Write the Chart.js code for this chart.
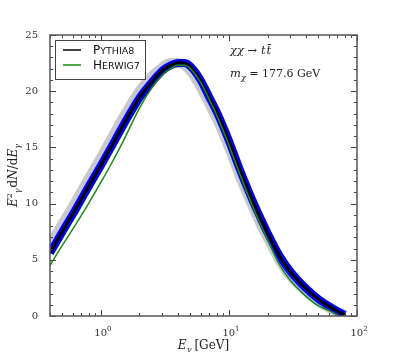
<!DOCTYPE html>
<html>
<head>
<meta charset="utf-8">
<script src="https://cdn.jsdelivr.net/npm/chart.js@4.4.0/dist/chart.umd.min.js"></script>
<style>
  html, body { margin: 0; padding: 0; background: #fff; }
  #wrap { width: 399px; height: 352px; }
</style>
</head>
<body>
<div id="wrap"><canvas id="myChart"></canvas></div>
<script>
// photon energy grid [GeV]
var energies = [0.4, 0.5, 0.6, 0.8, 1.0, 1.2, 1.5, 2.0, 2.5, 3.0, 3.5, 4.0, 4.5, 5.0, 6.0, 7.0, 8.0, 10, 12, 15, 18, 20, 25, 30, 40, 50, 60, 70, 80];
// Pythia8 central curve
var pythia = [5.6, 7.5, 9.0, 11.5, 13.4, 15.0, 17.0, 19.4, 20.8, 21.8, 22.3, 22.5, 22.5, 22.2, 21.0, 19.5, 18.2, 15.6, 13.2, 10.5, 8.5, 7.4, 5.3, 4.0, 2.45, 1.5, 0.9, 0.45, 0.1];
// Pythia8 variation (grey band)
var pythiaVar = [6.3, 8.2, 9.7, 12.2, 14.1, 15.7, 17.7, 20.0, 21.3, 22.1, 22.5, 22.5, 22.3, 21.8, 20.4, 18.9, 17.6, 15.0, 12.6, 10.0, 8.0, 7.0, 4.9, 3.6, 2.2, 1.3, 0.75, 0.35, 0.05];
// Herwig7
var herwig = [4.5, 6.3, 7.7, 10.0, 11.9, 13.5, 15.6, 18.5, 20.3, 21.4, 22.0, 22.3, 22.3, 22.0, 20.8, 19.3, 17.9, 15.2, 12.8, 10.0, 7.9, 6.8, 4.5, 3.2, 1.75, 0.9, 0.5, 0.1, null];

var xMajor = [1, 10, 100];
var xMinor = [0.4, 0.5, 0.6, 0.7, 0.8, 0.9, 2, 3, 4, 5, 6, 7, 8, 9, 20, 30, 40, 50, 60, 70, 80, 90];
var yMajor = [0, 5, 10, 15, 20, 25];

function pts(vals) {
  return energies.map(function(e, i) { return { x: e, y: vals[i] }; });
}

function drawRich(c, parts, x, y, align) {
  var w = 0;
  parts.forEach(function(p) { c.font = p.f; w += c.measureText(p.t).width + (p.gap || 0); });
  var cx = align === 'center' ? x - w / 2 : x;
  parts.forEach(function(p) {
    c.font = p.f;
    c.fillText(p.t, cx, y + (p.dy || 0));
    cx += c.measureText(p.t).width + (p.gap || 0);
  });
}

var SERIF = '"DejaVu Serif", serif';
var SANS = '"DejaVu Sans", sans-serif';

var decor = {
  id: 'decor',
  afterDraw: function(chart) {
    var c = chart.ctx, a = chart.chartArea, xs = chart.scales.x, ys = chart.scales.y;
    c.save();
    c.strokeStyle = '#444';
    c.lineWidth = 1;
    function seg(x1, y1, x2, y2) { c.beginPath(); c.moveTo(x1, y1); c.lineTo(x2, y2); c.stroke(); }
    // y ticks, inward on both sides
    for (var v = 0; v <= 25; v++) {
      var p = Math.round(ys.getPixelForValue(v)) + 0.5;
      var len = v % 5 === 0 ? 6 : 3;
      seg(a.left, p, a.left + len, p);
      seg(a.right - len, p, a.right, p);
    }
    xMajor.forEach(function(e) {
      var p = Math.round(xs.getPixelForValue(e)) + 0.5;
      seg(p, a.bottom, p, a.bottom - 6);
      seg(p, a.top, p, a.top + 6);
    });
    xMinor.forEach(function(e) {
      var p = Math.round(xs.getPixelForValue(e)) + 0.5;
      seg(p, a.bottom, p, a.bottom - 3);
      seg(p, a.top, p, a.top + 3);
    });
    // frame
    c.lineWidth = 1.5;
    c.strokeStyle = '#555';
    c.strokeRect(a.left, a.top, a.right - a.left, a.bottom - a.top);

    // y tick labels
    c.fillStyle = '#333';
    c.textBaseline = 'middle';
    c.textAlign = 'right';
    c.font = '10px ' + SERIF;
    yMajor.forEach(function(v) {
      c.fillText(String(v), 38, ys.getPixelForValue(v));
    });

    // x tick labels 10^n
    c.textBaseline = 'alphabetic';
    c.textAlign = 'left';
    xMajor.forEach(function(e) {
      var p = xs.getPixelForValue(e);
      var ex = String(Math.round(Math.log10(e)));
      drawRich(c, [
        { t: '10', f: '10px ' + SERIF },
        { t: ex, f: '7px ' + SERIF, dy: -5 }
      ], p + 2, 336, 'center');
    });

    // axis titles
    c.fillStyle = '#222';
    drawRich(c, [
      { t: 'E', f: 'italic 12px ' + SERIF },
      { t: 'γ', f: 'italic 8px ' + SERIF, dy: 3, gap: 3 },
      { t: '[GeV]', f: '12px ' + SERIF }
    ], (a.left + a.right) / 2, 349, 'center');

    c.save();
    c.translate(17, (a.top + a.bottom) / 2);
    c.rotate(-Math.PI / 2);
    drawRich(c, [
      { t: 'E', f: 'italic 12px ' + SERIF },
      { t: '2', f: '8px ' + SERIF, dy: -5 },
      { t: 'γ', f: 'italic 8px ' + SERIF, dy: 3, gap: -3 },
      { t: '', f: '8px ' + SERIF, gap: 4 },
      { t: 'd', f: '12px ' + SERIF },
      { t: 'N', f: 'italic 12px ' + SERIF },
      { t: '/d', f: '12px ' + SERIF },
      { t: 'E', f: 'italic 12px ' + SERIF },
      { t: 'γ', f: 'italic 8px ' + SERIF, dy: 3 }
    ], 0, 0, 'center');
    c.restore();

    // annotation
    drawRich(c, [
      { t: 'χχ', f: 'italic 11.5px ' + SERIF },
      { t: ' → ', f: '11.5px ' + SERIF },
      { t: 't', f: 'italic 11.5px ' + SERIF, gap: 1 },
      { t: 't\u0304', f: 'italic 11.5px ' + SERIF }
    ], 230, 54);
    drawRich(c, [
      { t: 'm', f: 'italic 11.5px ' + SERIF },
      { t: 'χ', f: 'italic 8px ' + SERIF, dy: 3 },
      { t: ' = 177.6 GeV', f: '11px ' + SERIF }
    ], 230, 77);

    // legend
    c.fillStyle = '#fff';
    c.fillRect(55, 40, 90, 39);
    c.strokeStyle = '#444';
    c.lineWidth = 1;
    c.strokeRect(55.5, 40.5, 90, 39);
    var rows = [
      { color: '#000', big: 'P', small: 'YTHIA8', y: 50 },
      { color: '#1a8a1a', big: 'H', small: 'ERWIG7', y: 65 }
    ];
    rows.forEach(function(r) {
      c.strokeStyle = r.color;
      c.lineWidth = 1.5;
      seg(63, r.y, 81, r.y);
      c.fillStyle = '#111';
      drawRich(c, [
        { t: r.big, f: '12px ' + SANS },
        { t: r.small, f: '9.5px ' + SANS }
      ], 93, r.y + 4);
    });
    c.restore();
  }
};

var ctx = document.getElementById('myChart').getContext('2d');
var myChart = new Chart(ctx, {
  type: 'line',
  data: {
    datasets: [{
      label: 'Herwig7',
      data: pts(herwig),
      borderColor: '#1a8a1a',
      borderWidth: 1.5,
      order: 0
    }, {
      label: 'Pythia8',
      data: pts(pythia),
      borderColor: '#000',
      borderWidth: 3,
      order: 1
    }, {
      label: 'Pythia8 band',
      data: pts(pythia),
      borderColor: '#0000ee',
      borderWidth: 8,
      order: 2
    }, {
      label: 'Pythia8 variation',
      data: pts(pythiaVar),
      borderColor: 'rgba(120,120,120,0.4)',
      borderWidth: 10,
      order: 3
    }]
  },
  options: {
    animation: false,
    responsive: true,
    maintainAspectRatio: false,
    devicePixelRatio: 1,
    layout: { padding: { top: 35, right: 42, left: 0, bottom: 0 } },
    elements: {
      point: { radius: 0 },
      line: { cubicInterpolationMode: 'monotone', fill: false, borderCapStyle: 'butt' }
    },
    plugins: { legend: { display: false }, tooltip: { enabled: false } },
    scales: {
      x: {
        type: 'logarithmic',
        min: 0.4,
        max: 100,
        grid: { display: false },
        border: { display: false },
        ticks: { display: false },
        afterFit: function(s) { s.height = 36; }
      },
      y: {
        min: 0,
        max: 25,
        grid: { display: false },
        border: { display: false },
        ticks: { display: false },
        afterFit: function(s) { s.width = 50; }
      }
    }
  },
  plugins: [decor]
});
</script>
</body>
</html>
